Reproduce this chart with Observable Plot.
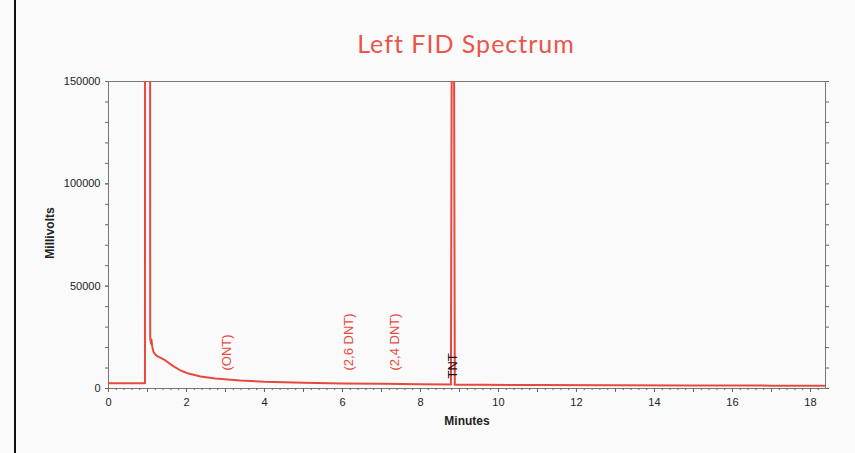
<!DOCTYPE html>
<html><head><meta charset="utf-8">
<script src="https://cdn.jsdelivr.net/npm/d3@7"></script>
<script src="https://cdn.jsdelivr.net/npm/@observablehq/plot@0.6"></script>
<style>
html,body{margin:0;padding:0;background:#fafafa;}
#wrap{position:relative;width:855px;height:453px;overflow:hidden;background:#fafafa;}
#border{position:absolute;left:14px;top:0;width:2px;height:453px;background:#111;}
#title{position:absolute;left:0;width:932px;top:28px;text-align:center;font-family:"Comic Sans MS","Lato","DejaVu Sans",sans-serif;font-size:25px;color:#e8564b;letter-spacing:1px;}
#chart{position:absolute;left:0;top:0;}
</style></head>
<body>
<div id="wrap"><div id="border"></div><div id="title">Left FID Spectrum</div><div id="chart"></div></div>
<script>
// Chromatogram trace (minutes, millivolts)
const time = [0, 0.935, 0.94, 1.06, 1.07, 1.09, 1.1, 1.12, 1.15, 1.2, 1.25, 1.33, 1.46, 1.64, 1.85, 2.05, 2.36, 2.74, 3.38, 4.0, 5.0, 6.0, 7.0, 8.0, 8.78, 8.83, 8.88, 9.5, 11, 13, 15, 17, 18.38];
const millivolts = [2600, 2600, 400000, 400000, 24400, 22000, 24000, 20700, 18000, 16600, 15800, 15100, 13700, 11200, 8800, 7300, 5900, 4900, 3900, 3300, 2800, 2500, 2300, 2100, 2000, 400000, 1800, 1800, 1700, 1600, 1500, 1400, 1300];

// Peak annotations
const peakNames = ["(ONT)", "(2,6 DNT)", "(2,4 DNT)", "TNT"];
const peakTimes = [3.03, 6.15, 7.33, 8.82];
const peakLevels = [8800, 8800, 8800, 4900];

// Axis ticks
const xLabelTicks = [0, 2, 4, 6, 8, 10, 12, 14, 16, 18];
const xMajorTicks = d3.range(0, 19, 1);
const xMinorTicks = d3.range(0, 18.4, 0.2);
const yLabelTicks = [0, 50000, 100000, 150000];
const yMinorTicks = d3.range(0, 150001, 10000);

const trace = time.map((t, i) => ({t, mv: millivolts[i]}));
const peaks = peakNames.map((name, i) => ({name, t: peakTimes[i], mv: peakLevels[i]}));
const red = "#e8493f";

const plot = Plot.plot({
  width: 855, height: 453,
  marginLeft: 108, marginRight: 30, marginTop: 81, marginBottom: 65,
  x: {domain: [0, 18.385]},
  y: {domain: [0, 150000]},
  style: {background: "transparent", fontFamily: "'Liberation Sans', Arial, sans-serif", color: "#222"},
  marks: [
    Plot.frame({stroke: "#777", strokeWidth: 1}),
    Plot.axisX({ticks: xMinorTicks, tickSize: 2, text: null, label: null, stroke: "#666"}),
    Plot.axisX({ticks: xMajorTicks, tickSize: 4, text: null, label: null, stroke: "#666"}),
    Plot.axisX({ticks: xLabelTicks, tickSize: 4, tickPadding: 6, fontSize: 11, tickFormat: d => String(d),
      label: "Minutes", labelAnchor: "center", labelArrow: "none", labelOffset: 36, stroke: "#666"}),
    Plot.axisY({ticks: yMinorTicks, tickSize: 3, text: null, label: null, stroke: "#666"}),
    Plot.axisY({ticks: yMinorTicks, anchor: "right", tickSize: 3, text: null, label: null, stroke: "#666"}),
    Plot.axisY({ticks: yLabelTicks, tickSize: 3, tickPadding: 5, fontSize: 11, tickFormat: d => String(d),
      label: null, stroke: "#666"}),
    Plot.line(trace, {x: "t", y: "mv", stroke: red, strokeWidth: 2, clip: true}),
    Plot.text(peaks, {x: "t", y: "mv", text: "name", rotate: -90, textAnchor: "start", fontSize: 13,
      fill: d => d.name === "TNT" ? "#111" : red})
  ]
});
document.getElementById("chart").appendChild(plot);

// Y axis label
const svg = d3.select(plot);
svg.append("text").attr("transform", "translate(54,233) rotate(-90)").attr("text-anchor", "middle")
  .attr("font-weight", "bold").attr("font-size", 12).attr("fill", "#222").text("Millivolts");
svg.selectAll("[aria-label='x-axis label'] text").attr("font-weight", "bold").attr("font-size", 12);
</script>
</body></html>
